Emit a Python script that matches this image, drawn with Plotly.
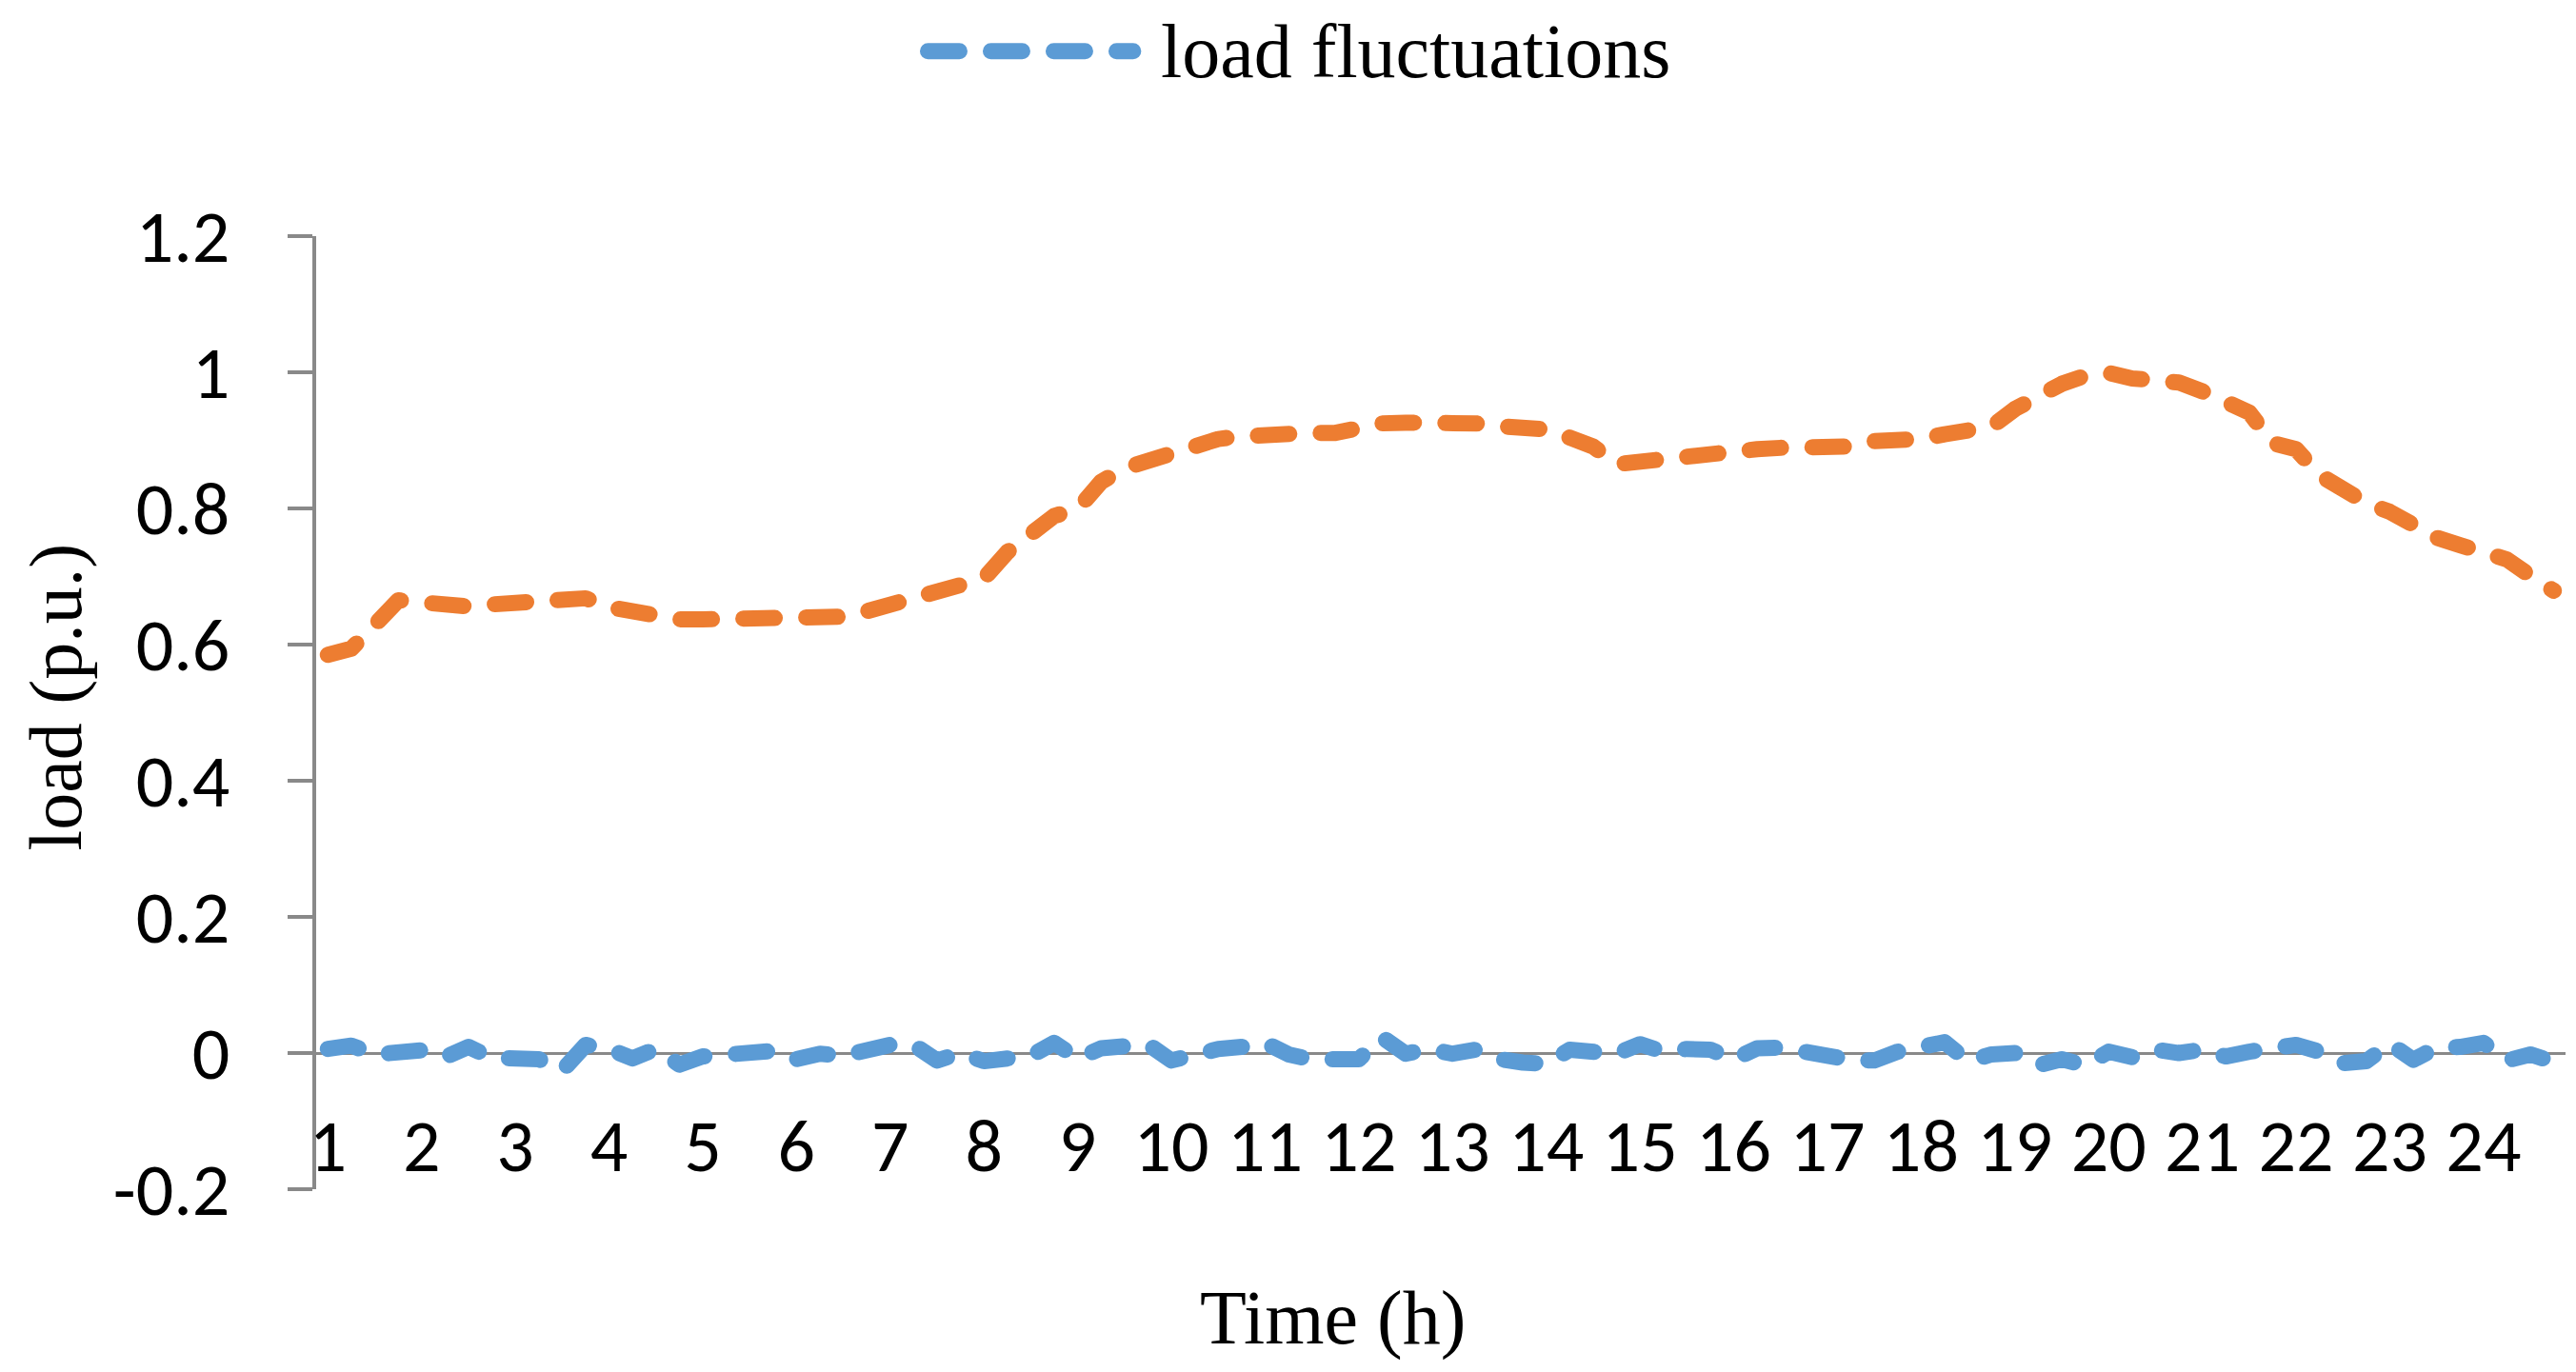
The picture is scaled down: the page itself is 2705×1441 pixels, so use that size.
import plotly.graph_objects as go

# 15-minute slots over one day (96 points); hour labels at every 4th slot
LOAD = [
    0.585, 0.594, 0.629, 0.665, 0.662, 0.659, 0.656, 0.659, 0.661, 0.662,
    0.663, 0.668, 0.655, 0.649, 0.641, 0.637, 0.637, 0.637, 0.637, 0.637,
    0.638, 0.640, 0.641, 0.649, 0.658, 0.671, 0.680, 0.683, 0.697, 0.736,
    0.761, 0.789, 0.799, 0.839, 0.859, 0.869, 0.883, 0.895, 0.902, 0.906,
    0.909, 0.910, 0.911, 0.911, 0.920, 0.925, 0.926, 0.926, 0.927, 0.925,
    0.921, 0.921, 0.916, 0.904, 0.891, 0.865, 0.869, 0.874, 0.879, 0.883,
    0.885, 0.887, 0.889, 0.890, 0.890, 0.891, 0.899, 0.900, 0.902, 0.909,
    0.912, 0.920, 0.946, 0.966, 0.983, 0.995, 0.999, 0.991, 0.986, 0.985,
    0.972, 0.958, 0.941, 0.896, 0.887, 0.849, 0.828, 0.808, 0.795, 0.776,
    0.757, 0.746, 0.736, 0.725, 0.701, 0.679,
]

FLUCTUATIONS = [
    0.006, 0.011, -0.002, 0.000, 0.004, -0.006, 0.009, -0.007, -0.010, -0.009,
    -0.026, 0.012, 0.006, -0.008, 0.006, -0.017, -0.005, -0.002, 0.005, 0.003,
    -0.009, -0.001, -0.004, 0.007, 0.012, 0.012, -0.011, 0.000, -0.012, -0.008,
    -0.004, 0.015, -0.008, 0.007, 0.009, 0.013, -0.011, 0.000, 0.006, 0.009,
    0.015, -0.002, -0.010, -0.009, -0.009, 0.023, -0.001, 0.006, -0.001, 0.005,
    -0.009, -0.014, -0.016, 0.005, -0.001, -0.001, 0.013, 0.002, 0.006, 0.005,
    -0.009, 0.007, 0.008, -0.001, -0.004, -0.010, -0.011, 0.002, 0.009, 0.016,
    -0.012, -0.002, 0.000, -0.018, -0.009, -0.018, 0.002, -0.006, 0.005, 0.000,
    0.005, -0.005, 0.002, 0.008, 0.012, 0.002, -0.015, -0.012, 0.014, -0.010,
    0.008, 0.009, 0.015, -0.011, -0.002, -0.013,
]

SLOTS = list(range(len(LOAD)))
HOUR_LABELS = ["1", "2", "3", "4", "5", "6", "7", "8", "9", "10", "11", "12",
               "13", "14", "15", "16", "17", "18", "19", "20", "21", "22", "23", "24"]
HOUR_SLOTS = SLOTS[::4]

Y_TICKS = [-0.2, 0, 0.2, 0.4, 0.6, 0.8, 1.0, 1.2]
Y_TICK_TEXT = ["-0.2", "0", "0.2", "0.4", "0.6", "0.8", "1", "1.2"]

BLUE = "#5B9BD5"
ORANGE = "#ED7D31"
GRAY = "#898989"
DASH = "33px,33px"
LW = 17

SANS = "Carlito, Calibri, 'Liberation Sans Narrow', 'Liberation Sans', Arial, sans-serif"
SERIF = "'Liberation Serif', 'Times New Roman', serif"

fig = go.Figure()
fig.add_trace(go.Scatter(
    x=SLOTS, y=FLUCTUATIONS, mode="lines", name="load fluctuations",
    line=dict(color=BLUE, width=LW, dash=DASH), showlegend=False,
))
fig.add_trace(go.Scatter(
    x=SLOTS, y=LOAD, mode="lines", name="load",
    line=dict(color=ORANGE, width=LW, dash=DASH), showlegend=False,
))

fig.update_layout(
    width=2705, height=1441,
    margin=dict(l=324, r=19, t=240, b=200),
    paper_bgcolor="white", plot_bgcolor="white",
    xaxis=dict(
        range=[-0.5, len(SLOTS) - 0.5],
        tickmode="array", tickvals=HOUR_SLOTS, ticktext=HOUR_LABELS,
        ticks="", showgrid=False, showline=False, zeroline=False,
        ticklabelposition="inside", ticklabeloverflow="allow",
        tickfont=dict(family=SANS, size=78, color="black"),
    ),
    yaxis=dict(
        range=[-0.2, 1.2],
        tickmode="array", tickvals=Y_TICKS, ticktext=Y_TICK_TEXT,
        ticks="outside", ticklen=26, tickwidth=4, tickcolor=GRAY,
        showline=True, linecolor=GRAY, linewidth=4,
        zeroline=True, zerolinecolor=GRAY, zerolinewidth=3,
        showgrid=False, ticklabelstandoff=45,
        tickfont=dict(family=SANS, size=78, color="black"),
    ),
    annotations=[
        dict(text="Time (h)", xref="paper", yref="paper", x=0.452, y=-0.135,
             xanchor="center", yanchor="middle", showarrow=False,
             font=dict(family=SERIF, size=80, color="black")),
        dict(text="load (p.u.)", xref="paper", yref="paper", x=-0.116, y=0.516,
             xanchor="center", yanchor="middle", showarrow=False, textangle=-90,
             font=dict(family=SERIF, size=78, color="black")),
        dict(text="load fluctuations", xref="paper", yref="paper", x=0.3745, y=1.194,
             xanchor="left", yanchor="middle", showarrow=False,
             font=dict(family=SERIF, size=80, color="black")),
    ],
    shapes=[
        dict(type="line", xref="paper", yref="paper", x0=0.272, x1=0.3632,
             y0=1.194, y1=1.194, line=dict(color=BLUE, width=LW, dash=DASH)),
    ],
)

post = ("var s=document.createElement('style');"
        "s.innerHTML='.js-line{stroke-linecap:round;stroke-linejoin:round}"
        ".shapelayer path{stroke-linecap:round}';"
        "document.head.appendChild(s);")

fig.write_html("out.html", config={"displayModeBar": False}, post_script=post)
